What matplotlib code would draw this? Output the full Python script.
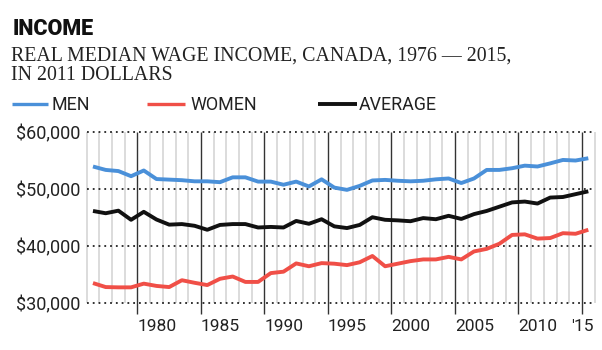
import matplotlib
matplotlib.use("Agg")
import matplotlib.pyplot as plt
from matplotlib.lines import Line2D

years = list(range(1976, 2016))
men = [54000, 53400, 53200, 52300, 53300, 51800, 51700, 51600, 51400, 51400,
       51250, 52100, 52100, 51350, 51350, 50800, 51350, 50500, 51750, 50300,
       49900, 50600, 51550, 51650, 51500, 51400, 51500, 51750, 51900, 51100,
       51900, 53400, 53400, 53700, 54150, 54000, 54550, 55150, 55050, 55450]
women = [33550, 32850, 32800, 32800, 33450, 33050, 32850, 34050, 33600, 33200,
         34300, 34700, 33750, 33750, 35300, 35550, 37000, 36500, 37050, 36950,
         36700, 37200, 38300, 36500, 36950, 37400, 37700, 37700, 38150, 37700,
         39100, 39550, 40450, 42000, 42100, 41350, 41450, 42300, 42200, 42900]
average = [46200, 45800, 46250, 44650, 46050, 44700, 43800, 43900, 43600, 42900,
           43750, 43900, 43900, 43300, 43400, 43300, 44450, 43950, 44750, 43500,
           43200, 43750, 45100, 44650, 44550, 44400, 44950, 44750, 45350, 44800,
           45650, 46200, 46950, 47700, 47850, 47500, 48550, 48650, 49150, 49650]
series_names = ["MEN", "WOMEN", "AVERAGE"]
series_colors = ["#4a90d9", "#f04f47", "#111111"]
y_ticks = [30000, 40000, 50000, 60000]
y_tick_labels = ["$30,000", "$40,000", "$50,000", "$60,000"]
x_ticks = [1980, 1985, 1990, 1995, 2000, 2005, 2010, 2015]
x_tick_labels = ["1980", "1985", "1990", "1995", "2000", "2005", "2010", "'15"]

title = "INCOME"
subtitle = "REAL MEDIAN WAGE INCOME, CANADA, 1976 \u2014 2015,\nIN 2011 DOLLARS"

fig = plt.figure(figsize=(6.02, 3.5), dpi=100)
ax = fig.add_axes([0.1439, 0.1334, 0.8439, 0.4886])
ax.set_xlim(1976, 2016)
ax.set_ylim(30000, 60000)
for s in ax.spines.values():
    s.set_visible(False)
ax.set_xticks([])
ax.set_yticks([])

# light yearly gridlines
for yr in range(1976, 2017):
    if yr in x_ticks:
        continue
    ax.plot([yr, yr], [30000, 60000], color="#d6d6d6", lw=1.2, zorder=1,
            clip_on=False, solid_capstyle="butt")
# dark tick lines
for yr in x_ticks:
    ax.plot([yr, yr], [28200, 60000], color="#333333", lw=1.0, zorder=2,
            clip_on=False, solid_capstyle="butt")
# dotted horizontal lines
for yv in y_ticks:
    ax.plot([1976, 2016], [yv, yv], color="#222222", lw=1.3,
            linestyle=(0, (1, 2.2)), zorder=3, clip_on=False)

xs = [y + 0.5 for y in years]
for vals, c in zip([men, women, average], series_colors):
    ax.plot(xs, vals, color=c, lw=2.8, zorder=5, solid_joinstyle="round",
            solid_capstyle="butt", clip_on=False)

tick_font = "Roboto"
for yv, lab in zip(y_ticks, y_tick_labels):
    ax.annotate(lab, xy=(0, yv), xycoords=ax.get_yaxis_transform(),
                xytext=(-4.8, -1.5), textcoords="offset points",
                ha="right", va="center", fontsize=13, family=tick_font,
                color="#222222")
for i, (xv, lab) in enumerate(zip(x_ticks, x_tick_labels)):
    ha = "center" if i == len(x_ticks) - 1 else "left"
    ax.annotate(lab, xy=(xv, 0), xycoords=ax.get_xaxis_transform(),
                xytext=(0, -11), textcoords="offset points",
                ha=ha, va="top", fontsize=12.5, family=tick_font,
                color="#222222")

fig.text(0.021, 0.9, title, fontsize=15.5, fontweight="heavy",
         family="Roboto", color="#111111", va="baseline", ha="left")
fig.text(0.019, 0.7714, subtitle, fontsize=14.3, family="Liberation Serif",
         color="#222222", va="baseline", ha="left", linespacing=1.0)

leg_line_x = [(0.0194, 0.0802), (0.2437, 0.3073), (0.528, 0.593)]
leg_text_x = [0.0859, 0.3156, 0.596]
for name, c, (x0, x1), tx in zip(series_names, series_colors, leg_line_x, leg_text_x):
    fig.add_artist(Line2D([x0, x1], [0.703, 0.703], color=c,
                          lw=2.4 if c != "#111111" else 2.8,
                          transform=fig.transFigure, solid_capstyle="butt"))
    fig.text(tx, 0.686, name, fontsize=12.9, family=tick_font, color="#222222",
             va="baseline", ha="left")

fig.savefig("out.png", dpi=100, facecolor="white")
